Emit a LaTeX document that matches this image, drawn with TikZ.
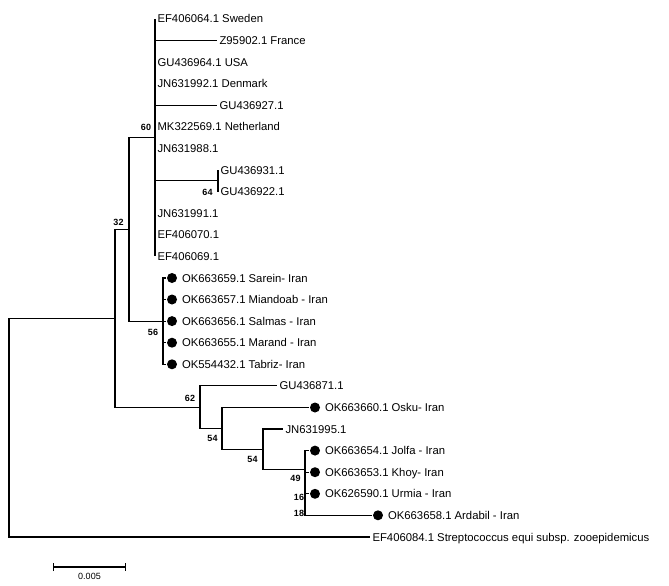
\documentclass[tikz,border=0pt]{standalone}
\usepackage{fontspec}
\setmainfont{Liberation Sans}
\usetikzlibrary{positioning,arrows.meta}

\begin{document}
\begin{tikzpicture}[x=1pt,y=-1pt,line width=1.1pt,
                    taxon/.style={anchor=west,inner xsep=2pt,inner ysep=0pt,
                      text height=8pt,text depth=0pt,
                      font=\fontsize{11.3}{13}\selectfont},
                    isolate/.style={circle,fill,inner sep=0pt,minimum size=10pt},
                    boot/.style={inner sep=0pt,font=\bfseries\fontsize{9}{10}\selectfont}]

  \useasboundingbox (0,0) rectangle (669,586);

  % internal nodes
  \coordinate (root) at (9,427.6);
  \coordinate (n0)   at (115,318.3);
  \coordinate (n32)  at (129,229.4);
  \coordinate (n60)  at (155,137.7);
  \coordinate (n64)  at (218,180.9);
  \coordinate (n56)  at (163,321.1);
  \coordinate (n62)  at (200,407.1);
  \coordinate (n54a) at (222,428.4);
  \coordinate (n54b) at (263,449.3);
  \coordinate (n49)  at (305,469.5);
  \coordinate (n16)  at (305,488.4);
  \coordinate (n18)  at (305,504.6);

  % taxa
  \node[taxon]   (sweden)  at (155,19.0)  {EF406064.1 Sweden};
  \node[taxon]   (france)  at (217,40.6)  {Z95902.1 France};
  \node[taxon]   (usa)     at (155,62.2)  {GU436964.1 USA};
  \node[taxon]   (denmark) at (155,83.7)  {JN631992.1 Denmark};
  \node[taxon]   (gu927)   at (217,105.3) {GU436927.1};
  \node[taxon]   (nether)  at (155,126.9) {MK322569.1 Netherland};
  \node[taxon]   (jn988)   at (155,148.5) {JN631988.1};
  \node[taxon]   (gu931)   at (218,170.1) {GU436931.1};
  \node[taxon]   (gu922)   at (218,191.6) {GU436922.1};
  \node[taxon]   (jn991)   at (155,213.2) {JN631991.1};
  \node[taxon]   (ef070)   at (155,234.8) {EF406070.1};
  \node[taxon]   (ef069)   at (155,256.4) {EF406069.1};

  \node[isolate] (d1)      at (172,278.0) {};
  \node[taxon]   (sarein)  [right=2pt of d1] {OK663659.1 Sarein- Iran};
  \node[isolate] (d2)      at (172,299.5) {};
  \node[taxon]   (miando)  [right=2pt of d2] {OK663657.1 Miandoab - Iran};
  \node[isolate] (d3)      at (172,321.1) {};
  \node[taxon]   (salmas)  [right=2pt of d3] {OK663656.1 Salmas - Iran};
  \node[isolate] (d4)      at (172,342.7) {};
  \node[taxon]   (marand)  [right=2pt of d4] {OK663655.1 Marand - Iran};
  \node[isolate] (d5)      at (172,364.3) {};
  \node[taxon]   (tabriz)  [right=2pt of d5] {OK554432.1 Tabriz- Iran};

  \node[taxon]   (gu871)   at (277,385.9) {GU436871.1};
  \node[isolate] (d6)      at (315,407.5) {};
  \node[taxon]   (osku)    [right=2pt of d6] {OK663660.1 Osku- Iran};
  \node[taxon]   (jn995)   at (283,429.0) {JN631995.1};
  \node[isolate] (d7)      at (315,450.6) {};
  \node[taxon]   (jolfa)   [right=2pt of d7] {OK663654.1 Jolfa - Iran};
  \node[isolate] (d8)      at (315,472.2) {};
  \node[taxon]   (khoy)    [right=2pt of d8] {OK663653.1 Khoy- Iran};
  \node[isolate] (d9)      at (315,493.8) {};
  \node[taxon]   (urmia)   [right=2pt of d9] {OK626590.1 Urmia - Iran};
  \node[isolate] (d10)     at (378,515.3) {};
  \node[taxon]   (ardabil) [right=2pt of d10] {OK663658.1 Ardabil - Iran};
  \node[taxon]   (outgrp)  at (370,537.0) {EF406084.1 Streptococcus equi subsp. zooepidemicus};

  % bootstrap values
  \node[boot] (b60)  at (146,127)     {60};
  \node[boot] (b32)  at (118.5,222)   {32};
  \node[boot] (b56)  at (153,332)     {56};
  \node[boot] (b64)  at (207.5,192)   {64};
  \node[boot] (b62)  at (190,398)     {62};
  \node[boot] (b54a) at (212.5,438.5) {54};
  \node[boot] (b54b) at (252.5,459.5) {54};
  \node[boot] (b49)  at (295.5,478.5) {49};
  \node[boot] (b16)  at (299,497.5)   {16};
  \node[boot] (b18)  at (299,513)     {18};

  % branches
  \draw (root) |- (n0)     (root) |- (outgrp.west);
  \draw (n0)   |- (n32)    (n0)   |- (n62);
  \draw (n32)  |- (n60)    (n32)  |- (n56);
  \draw (n60)  |- (sweden.west)  (n60) |- (france.west)
        (n60)  |- (usa.west)     (n60) |- (denmark.west)
        (n60)  |- (gu927.west)   (n60) |- (nether.west)
        (n60)  |- (jn988.west)   (n60) |- (n64)
        (n60)  |- (jn991.west)   (n60) |- (ef070.west)
        (n60)  |- (ef069.west);
  \draw (n64)  |- (gu931.west)   (n64) |- (gu922.west);
  \draw (n56)  |- (d1.west)  (n56) |- (d2.west)  (n56) |- (d3.west)
        (n56)  |- (d4.west)  (n56) |- (d5.west);
  \draw (n62)  |- (gu871.west)   (n62)  |- (n54a);
  \draw (n54a) |- (d6.west)      (n54a) |- (n54b);
  \draw (n54b) |- (jn995.west)   (n54b) |- (n49);
  \draw (n49)  |- (d7.west)      (n49)  |- (n16);
  \draw (n16)  |- (d8.west)      (n16)  |- (n18);
  \draw (n18)  |- (d9.west)      (n18)  |- (d10.west);

  % scale bar
  \coordinate (s0) at (53,567);
  \coordinate (s1) at (126,567);
  \draw[{Bar[width=8pt]}-{Bar[width=8pt]}] (s0) -- (s1);
  \node[inner sep=0pt,font=\fontsize{9}{10}\selectfont] (scale) at (89.5,576.5) {0.005};
\end{tikzpicture}
\end{document}
